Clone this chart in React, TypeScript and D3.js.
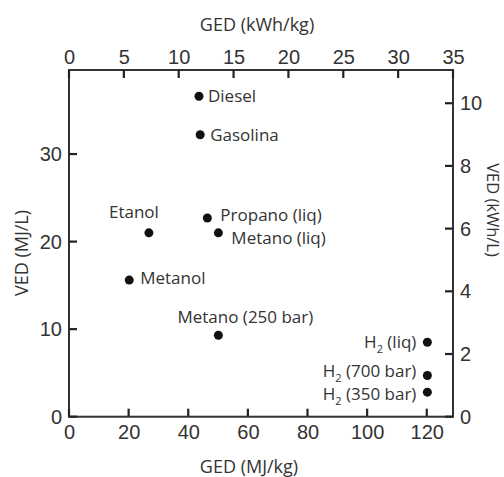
import React, { useEffect, useRef } from "react";
import * as d3 from "d3";

// fuel names, gravimetric energy density (MJ/kg), volumetric energy density (MJ/L)
const fuels = [
  "Diesel",
  "Gasolina",
  "Etanol",
  "Propano (liq)",
  "Metano (liq)",
  "Metanol",
  "Metano (250 bar)",
  "H2 (liq)",
  "H2 (700 bar)",
  "H2 (350 bar)",
];
const gedMJ = [43.6, 44.0, 26.8, 46.4, 50.1, 20.2, 50.1, 120.2, 120.2, 120.2];
const vedMJ = [36.6, 32.2, 21.0, 22.7, 21.0, 15.6, 9.3, 8.5, 4.7, 2.8];

const bottomTicks = [0, 20, 40, 60, 80, 100, 120];
const topTicks = [0, 5, 10, 15, 20, 25, 30, 35];
const leftTicks = [0, 10, 20, 30];
const rightTicks = [0, 2, 4, 6, 8, 10];

// label placement relative to each point: [anchor, dx, dy]
const labelPlace: [string, number, number][] = [
  ["start", 9, 0],
  ["start", 10, 0],
  ["middle", -15, -21],
  ["start", 13, -3],
  ["start", 13, 5],
  ["start", 11, -2],
  ["middle", 27, -18],
  ["end", -11, 0],
  ["end", -11, -5],
  ["end", -11, 2],
];

const W = 504;
const H = 477;
const L = 69;
const R = 453;
const T = 70;
const B = 416.7;
const INK = "#333";
const TICK = 8;

const x = d3.scaleLinear().domain([0, 128.8]).range([L, R]);
const xTop = d3.scaleLinear().domain([0, 35]).range([L, R]);
const y = d3.scaleLinear().domain([0, 39.6]).range([B, T]);
const yRight = d3.scaleLinear().domain([0, 11.06]).range([B, T]);

const App = () => {
  const gRef = useRef<SVGGElement>(null);

  useEffect(() => {
    const tickFont = "'Liberation Sans', Arial, sans-serif";
    const textFont = "'Open Sans', sans-serif";

    const root = d3.select(gRef.current);
    root.selectAll("*").remove();

    const styleAxis = (g) => {
      g.select(".domain").remove();
      g.selectAll(".tick line").remove();
      g.selectAll(".tick text")
        .attr("fill", INK)
        .style("font-family", tickFont)
        .style("font-size", "20px");
    };

    root
      .append("g")
      .attr("transform", `translate(0,${B})`)
      .call(d3.axisBottom(x).tickValues(bottomTicks).tickSize(0).tickPadding(8))
      .call(styleAxis);

    root
      .append("g")
      .attr("transform", `translate(0,${T})`)
      .call(d3.axisTop(xTop).tickValues(topTicks).tickSize(0).tickPadding(6))
      .call(styleAxis);

    root
      .append("g")
      .attr("transform", `translate(${L},0)`)
      .call(d3.axisLeft(y).tickValues(leftTicks).tickSize(0).tickPadding(7))
      .call(styleAxis);

    root
      .append("g")
      .attr("transform", `translate(${R},0)`)
      .call(d3.axisRight(yRight).tickValues(rightTicks).tickSize(0).tickPadding(7))
      .call(styleAxis);

    // axis titles
    const title = (txt, tx, ty, rot, size) =>
      root
        .append("text")
        .attr("transform", `translate(${tx},${ty}) rotate(${rot})`)
        .attr("text-anchor", "middle")
        .attr("dy", "0.35em")
        .attr("fill", INK)
        .style("font-family", textFont)
        .style("font-size", size)
        .text(txt);

    title("GED (kWh/kg)", 257, 25, 0, "18px");
    title("GED (MJ/kg)", 249, 467, 0, "18px");
    title("VED (MJ/L)", 22, 253, -90, "18px");
    title("VED (kWh/L)", 493, 210, 90, "16.5px");

    const pts = fuels.map((name, i) => ({ name, ged: gedMJ[i], ved: vedMJ[i], place: labelPlace[i] }));

    root
      .append("g")
      .selectAll("circle")
      .data(pts)
      .enter()
      .append("circle")
      .attr("cx", (d) => x(d.ged))
      .attr("cy", (d) => y(d.ved))
      .attr("r", 4.5)
      .attr("fill", "#111");

    const labels = root
      .append("g")
      .selectAll("text")
      .data(pts)
      .enter()
      .append("text")
      .attr("x", (d) => x(d.ged) + d.place[1])
      .attr("y", (d) => y(d.ved) + d.place[2])
      .attr("dy", "0.35em")
      .attr("text-anchor", (d) => d.place[0])
      .attr("fill", INK)
      .style("font-family", textFont)
      .style("font-size", "17px");

    labels.each(function (d) {
      const t = d3.select(this);
      if (d.name.startsWith("H2")) {
        t.append("tspan").text("H");
        t.append("tspan").attr("dy", 5).style("font-size", "11px").text("2");
        t.append("tspan").attr("dy", -5).text(d.name.slice(2));
      } else {
        t.text(d.name);
      }
    });
  }, []);

  return (
    <svg width={W} height={H} style={{ position: "absolute", left: 0, top: 0, background: "#fff" }}>
      <rect x={L} y={T} width={R - L} height={B - T} fill="none" stroke={INK} strokeWidth={2} />
      {/* inward tick marks */}
      <g stroke="#222" strokeWidth={2.2}>
        {bottomTicks.map((d) => (
          <line key={"b" + d} x1={x(d)} x2={x(d)} y1={B} y2={B - TICK} />
        ))}
        {topTicks.map((d) => (
          <line key={"t" + d} x1={xTop(d)} x2={xTop(d)} y1={T} y2={T + TICK} />
        ))}
        {leftTicks.map((d) => (
          <line key={"l" + d} x1={L} x2={L + TICK} y1={y(d)} y2={y(d)} />
        ))}
        {rightTicks.map((d) => (
          <line key={"r" + d} x1={R} x2={R - TICK} y1={yRight(d)} y2={yRight(d)} />
        ))}
      </g>
      <g ref={gRef} />
    </svg>
  );
};

export default App;
